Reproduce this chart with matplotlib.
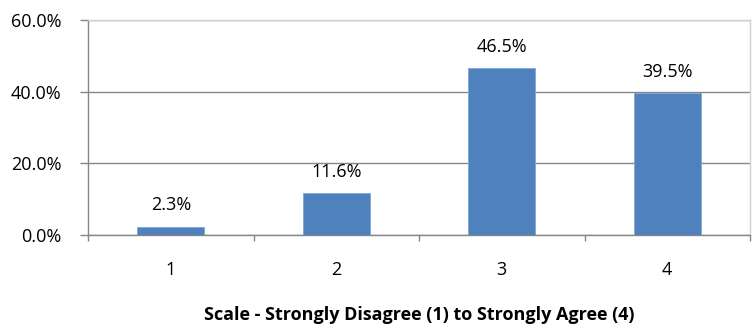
import matplotlib
matplotlib.use("Agg")
import matplotlib.pyplot as plt
from matplotlib.ticker import FuncFormatter, FixedLocator

categories = ["1", "2", "3", "4"]
values = [2.3, 11.6, 46.5, 39.5]
yticks = [0, 20, 40, 60]
xlabel = "Scale - Strongly Disagree (1) to Strongly Agree (4)"

plt.rcParams['font.family'] = ['Open Sans', 'DejaVu Sans']

fig = plt.figure(figsize=(7.53, 3.24), dpi=100)
ax = fig.add_axes([88/753, 89/324, 662/753, 215/324])

x = list(range(len(categories)))
ax.bar(x, values, width=0.405, color='#4F81BD', edgecolor='#7FA7D6', linewidth=0.6, zorder=3)
for xi, v in zip(x, values):
    ax.annotate(f"{v:.1f}%", (xi, v), xytext=(0, 9), textcoords='offset points',
                ha='center', va='bottom', fontsize=13, color='#000000')

ax.set_xlim(-0.5, len(categories) - 0.5)
ax.set_ylim(0, 60)
ax.set_yticks(yticks)
ax.yaxis.set_major_formatter(FuncFormatter(lambda v, p: f"{v:.1f}%"))
ax.set_xticks(x)
ax.set_xticklabels(categories)
ax.xaxis.set_minor_locator(FixedLocator([i + 0.5 for i in range(-1, len(categories))]))
ax.tick_params(axis='x', which='major', length=0, pad=19, labelsize=13)
ax.tick_params(axis='x', which='minor', length=4, color='#868686', width=1)
ax.tick_params(axis='y', length=6, color='#868686', width=1, labelsize=13, pad=13)

ax.grid(axis='y', color='#868686', linewidth=1, zorder=0)
for s in ['left', 'bottom']:
    ax.spines[s].set_color('#868686')
    ax.spines[s].set_linewidth(1)
for s in ['top', 'right']:
    ax.spines[s].set_color('#D0D0D0')
    ax.spines[s].set_linewidth(1)

ax.set_xlabel(xlabel, fontsize=13, fontweight='bold', labelpad=19)

fig.savefig("out.png", dpi=100)
